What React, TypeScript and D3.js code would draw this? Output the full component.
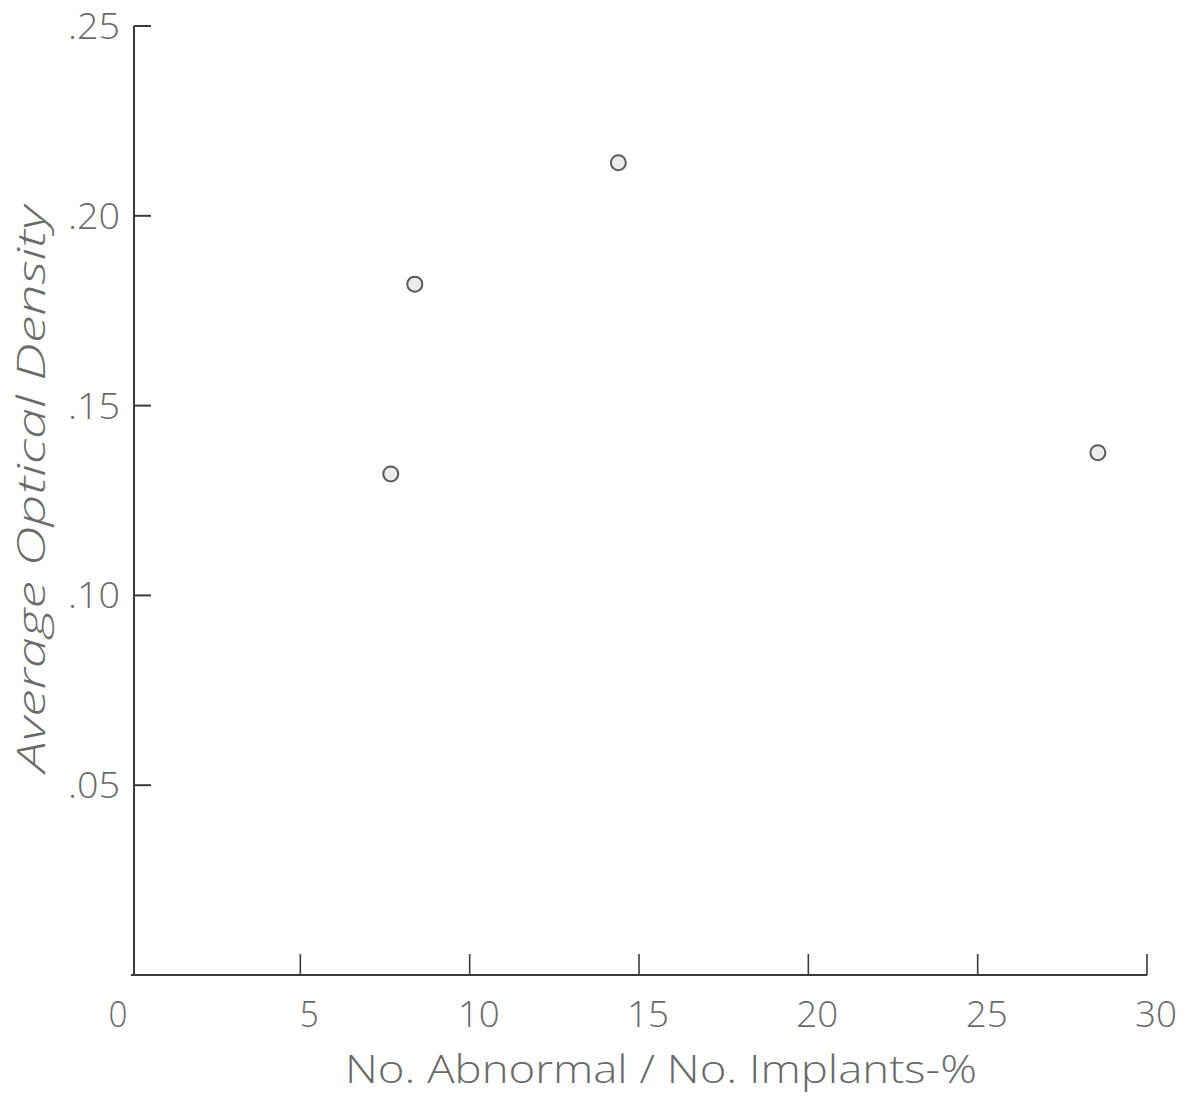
import React, { useEffect, useRef } from 'react';
import * as d3 from 'd3';

// percent abnormal vs average optical density
const pctAbnormal = [7.67, 8.38, 14.39, 28.55];
const opticalDensity = [0.132, 0.182, 0.214, 0.1376];
const xTicks = [0, 5, 10, 15, 20, 25, 30];
const xTickLabels = ['0', '5', '10', '15', '20', '25', '30'];
const yTicks = [0.05, 0.1, 0.15, 0.2, 0.25];
const yTickLabels = ['.05', '.10', '.15', '.20', '.25'];

const W = 1188, H = 1099;

export default function App() {
  const ref = useRef<SVGSVGElement>(null);

  useEffect(() => {
    const svg = d3.select(ref.current);
    svg.selectAll('*').remove();

    const x = d3.scaleLinear().domain([0, 30]).range([131, 1147]);
    const y = d3.scaleLinear().domain([0, 0.25]).range([975, 26]);
    const font = "'Open Sans', 'DejaVu Sans', sans-serif";
    const ink = '#3a3a3a';
    const textInk = '#6a6a6a';

    // axes lines
    svg.append('line')
      .attr('x1', x(0) + 3).attr('x2', x(0) + 3)
      .attr('y1', y(0.25)).attr('y2', y(0))
      .attr('stroke', ink).attr('stroke-width', 2);
    svg.append('line')
      .attr('x1', x(0)).attr('x2', x(30))
      .attr('y1', y(0)).attr('y2', y(0))
      .attr('stroke', ink).attr('stroke-width', 2.2);

    // y ticks pointing inward
    svg.selectAll('.ytick')
      .data(yTicks)
      .enter().append('line')
      .attr('x1', x(0) + 3).attr('x2', x(0) + 20)
      .attr('y1', d => y(d)).attr('y2', d => y(d))
      .attr('stroke', ink).attr('stroke-width', 2);

    svg.selectAll('.ylab')
      .data(yTicks)
      .enter().append('text')
      .attr('x', 120)
      .attr('y', d => y(d) + 13)
      .attr('text-anchor', 'end')
      .attr('font-family', font)
      .attr('font-weight', 300)
      .attr('font-size', 37)
      .attr('textLength', 52)
      .attr('lengthAdjust', 'spacingAndGlyphs')
      .attr('fill', textInk)
      .text((d, i) => yTickLabels[i]);

    // x ticks pointing up
    svg.selectAll('.xtick')
      .data(xTicks.slice(1))
      .enter().append('line')
      .attr('x1', d => x(d)).attr('x2', d => x(d))
      .attr('y1', y(0)).attr('y2', y(0) - 21)
      .attr('stroke', ink).attr('stroke-width', 1.6);

    svg.selectAll('.xlab')
      .data(xTicks)
      .enter().append('text')
      .attr('x', d => x(d) + (d === 0 ? -13 : 9))
      .attr('y', 1027)
      .attr('text-anchor', 'middle')
      .attr('font-family', font)
      .attr('font-weight', 300)
      .attr('font-size', 37)
      .attr('textLength', d => (d < 10 ? 19 : 42))
      .attr('lengthAdjust', 'spacingAndGlyphs')
      .attr('fill', textInk)
      .text((d, i) => xTickLabels[i]);

    // axis titles
    svg.append('text')
      .attr('x', 345).attr('y', 1083)
      .attr('font-family', font)
      .attr('font-weight', 300)
      .attr('font-size', 39)
      .attr('textLength', 632)
      .attr('lengthAdjust', 'spacingAndGlyphs')
      .attr('fill', textInk)
      .text('No. Abnormal / No. Implants-%');

    svg.append('text')
      .attr('transform', 'translate(45,772) rotate(-90)')
      .attr('font-family', font)
      .attr('font-weight', 300)
      .attr('font-size', 38)
      .attr('font-style', 'italic')
      .attr('textLength', 566)
      .attr('lengthAdjust', 'spacingAndGlyphs')
      .attr('fill', textInk)
      .text('Average Optical Density');

    // points
    svg.selectAll('.dot')
      .data(pctAbnormal)
      .enter().append('circle')
      .attr('cx', d => x(d))
      .attr('cy', (d, i) => y(opticalDensity[i]))
      .attr('r', 7.5)
      .attr('fill', '#ececec')
      .attr('stroke', '#5a5a5a')
      .attr('stroke-width', 2);
  }, []);

  return (
    <svg ref={ref} width={W} height={H}
      style={{ position: 'absolute', left: 0, top: 0, background: '#fff' }} />
  );
}
